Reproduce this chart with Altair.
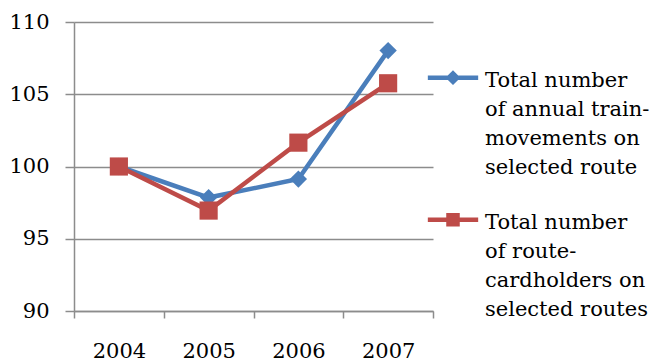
import altair as alt
import pandas as pd

# ---- data ----
years = [2004, 2005, 2006, 2007]
train_movements = [100.0, 97.85, 99.13, 108.02]
route_cardholders = [100.0, 96.95, 101.65, 105.76]
series_names = [
    "Total number|of annual train-|movements on|selected route",
    "Total number|of route-|cardholders on|selected routes",
]
series_colors = ["#4A7EBB", "#BE4B48"]
series_shapes = ["diamond", "square"]
y_ticks = [90, 95, 100, 105, 110]

rows = []
for name, vals in zip(series_names, [train_movements, route_cardholders]):
    for yr, v in zip(years, vals):
        rows.append({"year": yr, "value": v, "series": name})
df = pd.DataFrame(rows)

FONT = "DejaVu Serif"
FS = 21
GRID = "#8c8c8c"
PLOT_W, PLOT_H = 359, 289

x_ticks = [y - 0.5 for y in years] + [years[-1] + 0.5]
x_enc = alt.X(
    "year:Q",
    scale=alt.Scale(domain=[years[0] - 0.5, years[-1] + 0.5], nice=False, zero=False),
    axis=alt.Axis(
        values=x_ticks,
        labelExpr=f"datum.value + 0.5 <= {years[-1]} ? format(datum.value + 0.5, 'd') : ''",
        labelOffset=PLOT_W / len(years) / 2,
        labelFlush=False,
        labelOverlap=False,
        labelBound=False,
        grid=False,
        title=None,
        tickSize=7,
        tickColor=GRID,
        tickWidth=1.5,
        domainColor=GRID,
        domainWidth=1.5,
        labelPadding=22,
        labelFont=FONT,
        labelFontSize=FS,
        labelColor="black",
    ),
)
y_enc = alt.Y(
    "value:Q",
    scale=alt.Scale(domain=[y_ticks[0], y_ticks[-1]], nice=False, zero=False),
    axis=alt.Axis(
        values=y_ticks,
        grid=True,
        gridColor=GRID,
        gridWidth=1.5,
        title=None,
        tickSize=9,
        tickColor=GRID,
        tickWidth=1.5,
        domainColor=GRID,
        domainWidth=1.5,
        labelPadding=16,
        labelFont=FONT,
        labelFontSize=FS,
        labelColor="black",
    ),
)

base = alt.Chart(df)
layers = []
for name, col, shp, sz in zip(series_names, series_colors, series_shapes, [300, 330]):
    sub = base.transform_filter(alt.datum.series == name)
    layers.append(sub.mark_line(strokeWidth=4.5, color=col).encode(x=x_enc, y=y_enc))
    layers.append(
        sub.mark_point(shape=shp, filled=True, size=sz, opacity=1, color=col).encode(x=x_enc, y=y_enc)
    )

# legend symbols: line segment with marker in the middle (shifted down to sit on the first text line)
legend_paths = [
    "M-0.95,0.29H0.95M-0.16,0.29L0,0.13L0.16,0.29L0,0.45Z",
    "M-0.95,0.29H0.95M-0.17,0.12H0.17V0.46H-0.17Z",
]
legend = alt.Legend(
    title=None,
    orient="none",
    legendX=350,
    legendY=19,
    labelExpr="split(datum.label, '|')",
    labelFont=FONT,
    labelFontSize=FS,
    labelColor="black",
    labelLimit=400,
    labelOffset=3,
    labelBaseline="top",
    symbolSize=2809,
    symbolStrokeWidth=4.5,
    rowPadding=5,
    padding=0,
)
legend_layer = base.transform_filter("datum.value > 1000").mark_point(
    filled=True, opacity=1, size=2809, strokeWidth=4.5
).encode(
    x=x_enc,
    y=y_enc,
    fill=alt.Fill("series:N", scale=alt.Scale(domain=series_names, range=series_colors), legend=legend),
    stroke=alt.Stroke("series:N", scale=alt.Scale(domain=series_names, range=series_colors), legend=legend),
    shape=alt.Shape("series:N", scale=alt.Scale(domain=series_names, range=legend_paths), legend=legend),
)

chart = (
    alt.layer(*layers, legend_layer)
    .properties(
        width=PLOT_W,
        height=PLOT_H,
        autosize=alt.AutoSizeParams(type="none"),
        padding={"left": 74, "top": 22, "right": 649 - 74 - PLOT_W, "bottom": 362 - 22 - PLOT_H},
        background="white",
    )
    .configure(style={"guide-label": {"lineHeight": 29}})
    .configure_view(stroke=None)
)

chart.save("out.html", embed_options={"renderer": "svg", "actions": False})
